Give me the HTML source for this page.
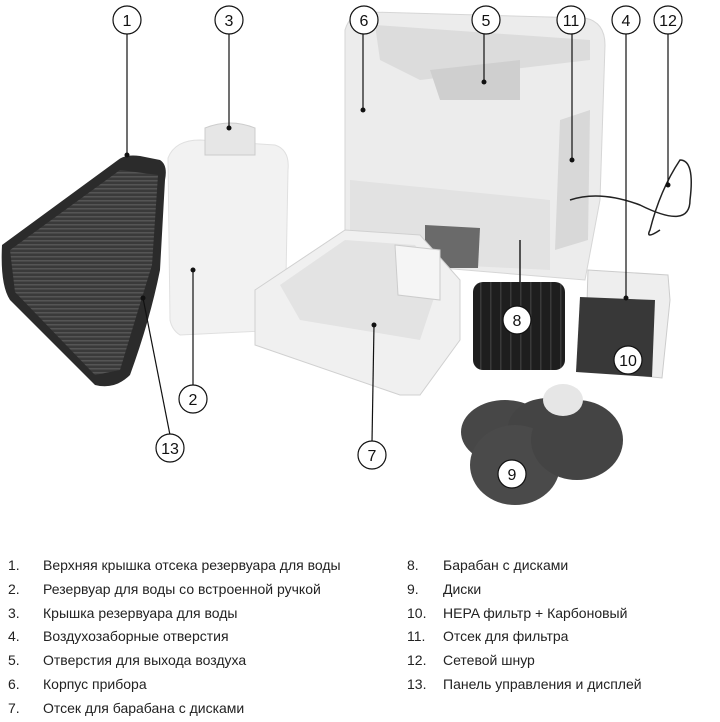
<!DOCTYPE html>
<html><head><meta charset="utf-8">
<style>
html,body{margin:0;padding:0;background:#fff;width:720px;height:722px;overflow:hidden}
.t{position:absolute;font-family:"Liberation Sans Narrow","Liberation Sans",sans-serif;font-size:14px;color:#222;white-space:nowrap}
</style></head><body>
<svg width="720" height="530" style="position:absolute;left:0;top:0" xmlns="http://www.w3.org/2000/svg">
<defs>
<pattern id="st" width="4" height="4" patternUnits="userSpaceOnUse"><rect width="4" height="4" fill="#3a3a3a"/><rect width="4" height="1.5" fill="#555"/></pattern>
<pattern id="dr" width="10" height="4" patternUnits="userSpaceOnUse"><rect width="10" height="4" fill="#1e1e1e"/><rect width="1.5" height="4" fill="#3a3a3a"/></pattern>
</defs>
<!-- main body -->
<path d="M345 30 Q350 12 370 12 L585 18 Q605 22 605 45 L600 200 L585 280 L345 260 Z" fill="#ececec" stroke="#d6d6d6"/>
<path d="M375 25 L590 40 L590 60 L420 80 L380 60 Z" fill="#dcdcdc"/>
<path d="M430 70 L520 60 L520 100 L440 100 Z" fill="#cfcfcf"/>
<path d="M560 120 L590 110 L588 240 L555 250 Z" fill="#d8d8d8"/>
<path d="M350 180 L550 200 L550 270 L350 260 Z" fill="#e2e2e2"/>
<path d="M425 225 L480 228 L478 268 L425 268 Z" fill="#6a6a6a"/>
<!-- cord -->
<path d="M570 200 Q600 190 640 205 Q690 230 690 200 Q695 160 680 160 Q660 190 650 230 Q645 240 660 230 M520 240 L520 300" fill="none" stroke="#222" stroke-width="1.5"/>
<!-- tray -->
<path d="M2 245 L118 160 Q125 154 140 156 L160 160 Q168 165 165 180 L160 270 Q150 320 130 375 Q115 390 95 385 L10 300 Q0 285 2 245 Z" fill="#2b2b2b"/>
<path d="M10 250 L120 170 L158 175 L152 265 Q135 320 120 370 L95 375 L15 292 Z" fill="url(#st)"/>
<!-- tank -->
<path d="M168 158 Q175 140 200 140 L275 145 Q290 150 288 170 L285 330 L180 335 Q172 330 170 320 Z" fill="#f2f2f2" stroke="#e0e0e0"/>
<path d="M205 128 Q230 118 255 128 L255 155 L205 155 Z" fill="#e6e6e6" stroke="#ccc"/>
<!-- box -->
<path d="M255 290 L345 230 L420 235 L460 280 L460 340 L420 395 L400 395 L255 345 Z" fill="#f0f0f0" stroke="#d0d0d0"/>
<path d="M280 285 L345 240 L415 245 L440 280 L420 340 L300 320 Z" fill="#e3e3e3"/>
<path d="M395 245 L440 250 L440 300 L398 295 Z" fill="#f5f5f5" stroke="#ccc"/>
<!-- drum -->
<rect x="473" y="282" width="92" height="88" rx="10" fill="url(#dr)"/>
<!-- filter -->
<path d="M588 270 L668 275 L670 300 L662 378 L585 370 Z" fill="#eee" stroke="#ccc"/>
<path d="M580 297 L655 300 L652 377 L576 372 Z" fill="#383838"/>
<!-- discs -->
<ellipse cx="505" cy="432" rx="44" ry="32" fill="#474747"/>
<ellipse cx="548" cy="428" rx="40" ry="30" fill="#444"/>
<ellipse cx="515" cy="465" rx="45" ry="40" fill="#4a4a4a"/>
<ellipse cx="577" cy="440" rx="46" ry="40" fill="#444"/>
<ellipse cx="563" cy="400" rx="20" ry="16" fill="#e6e6e6"/>
<!-- leader lines -->
<g stroke="#111" stroke-width="1.2">
<line x1="127" y1="33" x2="127" y2="155"/><line x1="229" y1="33" x2="229" y2="128"/>
<line x1="363" y1="33" x2="363" y2="110"/><line x1="484" y1="33" x2="484" y2="82"/>
<line x1="572" y1="33" x2="572" y2="160"/><line x1="626" y1="33" x2="626" y2="298"/>
<line x1="668" y1="33" x2="668" y2="185"/><line x1="193" y1="386" x2="193" y2="270"/>
<line x1="170" y1="435" x2="143" y2="298"/><line x1="372" y1="442" x2="374" y2="325"/>
</g>
<g fill="#111"><circle cx="127" cy="155" r="2.5"/><circle cx="229" cy="128" r="2.5"/><circle cx="363" cy="110" r="2.5"/><circle cx="484" cy="82" r="2.5"/><circle cx="572" cy="160" r="2.5"/><circle cx="626" cy="298" r="2.5"/><circle cx="668" cy="185" r="2.5"/><circle cx="193" cy="270" r="2.5"/><circle cx="143" cy="298" r="2.5"/><circle cx="374" cy="325" r="2.5"/></g>
<g fill="#fff" stroke="#111" stroke-width="1.2">
<circle cx="127" cy="20" r="14"/><circle cx="229" cy="20" r="14"/><circle cx="364" cy="20" r="14"/><circle cx="486" cy="20" r="14"/><circle cx="571" cy="20" r="14"/><circle cx="626" cy="20" r="14"/><circle cx="668" cy="20" r="14"/>
<circle cx="193" cy="399" r="14"/><circle cx="170" cy="448" r="14"/><circle cx="372" cy="455" r="14"/>
<circle cx="517" cy="320" r="14"/><circle cx="628" cy="360" r="14"/><circle cx="512" cy="474" r="14"/>
</g>
<g font-family="Liberation Sans Narrow, Liberation Sans, sans-serif" font-size="16" text-anchor="middle" fill="#111">
<text x="127" y="26">1</text><text x="229" y="26">3</text><text x="364" y="26">6</text><text x="486" y="26">5</text><text x="571" y="26">11</text><text x="626" y="26">4</text><text x="668" y="26">12</text>
<text x="193" y="405">2</text><text x="170" y="454">13</text><text x="372" y="461">7</text><text x="517" y="326">8</text><text x="628" y="366">10</text><text x="512" y="480">9</text>
</g>
</svg>
<div class="t" style="left:8px;top:557px">1.</div><div class="t" style="left:43px;top:557px">Верхняя крышка отсека резервуара для воды</div>
<div class="t" style="left:8px;top:581px">2.</div><div class="t" style="left:43px;top:581px">Резервуар для воды со встроенной ручкой</div>
<div class="t" style="left:8px;top:605px">3.</div><div class="t" style="left:43px;top:605px">Крышка резервуара для воды</div>
<div class="t" style="left:8px;top:628px">4.</div><div class="t" style="left:43px;top:628px">Воздухозаборные отверстия</div>
<div class="t" style="left:8px;top:652px">5.</div><div class="t" style="left:43px;top:652px">Отверстия для выхода воздуха</div>
<div class="t" style="left:8px;top:676px">6.</div><div class="t" style="left:43px;top:676px">Корпус прибора</div>
<div class="t" style="left:8px;top:700px">7.</div><div class="t" style="left:43px;top:700px">Отсек для барабана с дисками</div>
<div class="t" style="left:407px;top:557px">8.</div><div class="t" style="left:443px;top:557px">Барабан с дисками</div>
<div class="t" style="left:407px;top:581px">9.</div><div class="t" style="left:443px;top:581px">Диски</div>
<div class="t" style="left:407px;top:605px">10.</div><div class="t" style="left:443px;top:605px">HEPA фильтр + Карбоновый</div>
<div class="t" style="left:407px;top:628px">11.</div><div class="t" style="left:443px;top:628px">Отсек для фильтра</div>
<div class="t" style="left:407px;top:652px">12.</div><div class="t" style="left:443px;top:652px">Сетевой шнур</div>
<div class="t" style="left:407px;top:676px">13.</div><div class="t" style="left:443px;top:676px">Панель управления и дисплей</div>
</body></html>
